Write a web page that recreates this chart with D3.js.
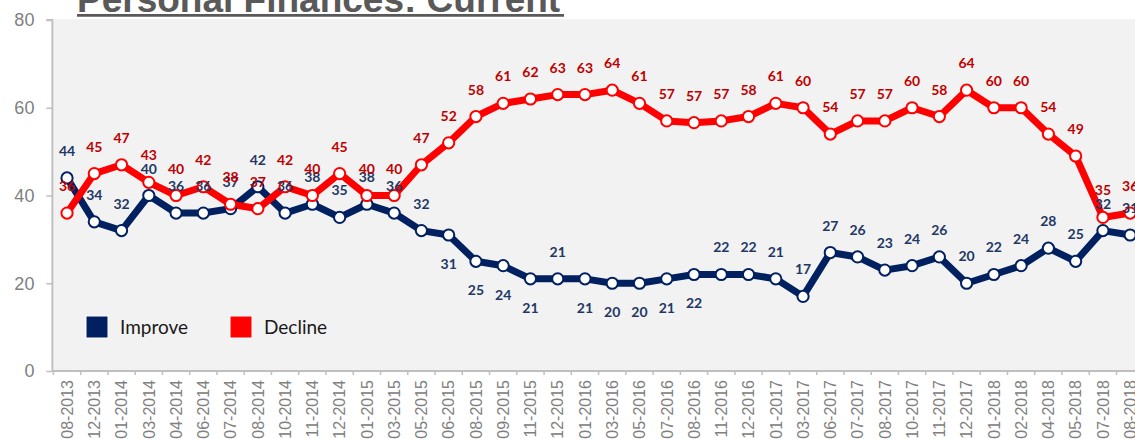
<!DOCTYPE html>
<html>
<head>
<meta charset="utf-8">
<script src="https://cdn.jsdelivr.net/npm/d3@7"></script>
<style>
  html, body { margin: 0; padding: 0; background: #fff; }
  svg { display: block; }
</style>
</head>
<body>
<div id="chart"></div>
<script>
// Data
const periods = ["08-2013", "12-2013", "01-2014", "03-2014", "04-2014", "06-2014", "07-2014", "08-2014",
  "10-2014", "11-2014", "12-2014", "01-2015", "03-2015", "05-2015", "06-2015", "08-2015", "09-2015",
  "11-2015", "12-2015", "01-2016", "03-2016", "05-2016", "07-2016", "08-2016", "11-2016", "12-2016",
  "01-2017", "03-2017", "06-2017", "07-2017", "08-2017", "10-2017", "11-2017", "12-2017", "01-2018",
  "02-2018", "04-2018", "05-2018", "07-2018", "08-2018"];
const improve = [44, 34, 32, 40, 36, 36, 37, 42, 36, 38, 35, 38, 36, 32, 31, 25, 24, 21, 21, 21,
  20, 20, 21, 22, 22, 22, 21, 17, 27, 26, 23, 24, 26, 20, 22, 24, 28, 25, 32, 31];
const decline = [36, 45, 47, 43, 40, 42, 38, 37, 42, 40, 45, 40, 40, 47, 52, 58, 61, 62, 63, 63,
  64, 61, 57, 56.6, 57, 58, 61, 60, 54, 57, 57, 60, 58, 64, 60, 60, 54, 49, 35, 36];
const yTicks = [0, 20, 40, 60, 80];
// Improve labels that sit under their point
const improveBelow = ["06-2015", "08-2015", "09-2015", "11-2015", "01-2016", "03-2016", "05-2016", "07-2016", "08-2016"];

const series = [
  { name: "Improve", values: improve, line: "#002060", label: "#1f3864" },
  { name: "Decline", values: decline, line: "#ff0000", label: "#c00000" }
];

// Layout
const [width, height] = [1135, 439];
const plot = { left: 53.4, top: 19, bottom: 371, step: 27.26 };

const svg = d3.select("#chart").append("svg")
  .attr("width", width)
  .attr("height", height);

const x = d3.scaleBand()
  .domain(periods)
  .range([plot.left, plot.left + plot.step * periods.length])
  .padding(0);

const y = d3.scaleLinear()
  .domain([0, 80])
  .range([plot.bottom, 20]);

const cx = d => x(d) + x.bandwidth() / 2;

// Plot background
svg.append("rect")
  .attr("x", plot.left)
  .attr("y", plot.top)
  .attr("width", width - plot.left)
  .attr("height", plot.bottom - plot.top)
  .attr("fill", "#f2f2f2");

// Title
svg.append("text")
  .attr("x", 77)
  .attr("y", 12)
  .attr("font-family", "Liberation Sans, Arial, sans-serif")
  .attr("font-weight", "bold")
  .attr("font-size", 37)
  .attr("fill", "#595959")
  .text("Personal Finances: Current");

svg.append("line")
  .attr("x1", 77).attr("x2", 564)
  .attr("y1", 15.4).attr("y2", 15.4)
  .attr("stroke", "#595959")
  .attr("stroke-width", 2.8);

// Y axis
const yAxis = svg.append("g")
  .attr("transform", `translate(${plot.left - 1},0)`)
  .call(d3.axisLeft(y).tickValues(yTicks).tickSize(6).tickPadding(12));
yAxis.select(".domain").attr("stroke", "#bfbfbf").attr("stroke-width", 2)
  .attr("d", `M-6,${y(80)}H0V${y(0)}`);
yAxis.selectAll(".tick line").attr("stroke", "#bfbfbf").attr("stroke-width", 1.5);
yAxis.selectAll(".tick text")
  .attr("fill", "#808080")
  .attr("font-family", "Liberation Sans, Arial, sans-serif")
  .attr("font-size", 18);

// X axis
const xAxis = svg.append("g")
  .attr("transform", `translate(0,${plot.bottom})`)
  .call(d3.axisBottom(x).tickSize(0).tickPadding(0));
xAxis.select(".domain").remove();
xAxis.append("line")
  .attr("x1", plot.left - 1).attr("x2", width)
  .attr("stroke", "#bfbfbf").attr("stroke-width", 2);
xAxis.selectAll(".bound")
  .data(periods)
  .enter().append("line")
  .attr("class", "bound")
  .attr("x1", d => x(d)).attr("x2", d => x(d))
  .attr("y1", 0).attr("y2", 4)
  .attr("stroke", "#bfbfbf").attr("stroke-width", 1.5);
xAxis.selectAll(".tick text")
  .attr("fill", "#808080")
  .attr("font-family", "Liberation Sans, Arial, sans-serif")
  .attr("font-size", 16)
  .attr("text-anchor", "end")
  .attr("dy", "0.36em")
  .attr("transform", "translate(0,9) rotate(-90)");

// Lines
const line = d3.line()
  .x((d, i) => cx(periods[i]))
  .y(d => y(d));

series.forEach(s => {
  svg.append("path")
    .datum(s.values)
    .attr("fill", "none")
    .attr("stroke", s.line)
    .attr("stroke-width", 7)
    .attr("stroke-linejoin", "round")
    .attr("d", line);
});

// Markers
series.forEach(s => {
  svg.append("g").selectAll("circle")
    .data(s.values)
    .enter().append("circle")
    .attr("cx", (d, i) => cx(periods[i]))
    .attr("cy", d => y(d))
    .attr("r", 5.6)
    .attr("fill", "#fff")
    .attr("stroke", s.line)
    .attr("stroke-width", 2);
});

// Data labels
series.forEach(s => {
  svg.append("g").selectAll("text")
    .data(s.values)
    .enter().append("text")
    .attr("x", (d, i) => cx(periods[i]))
    .attr("y", (d, i) => s.name === "Improve" && improveBelow.includes(periods[i]) ? y(d) + 34 : y(d) - 22)
    .attr("text-anchor", "middle")
    .attr("font-family", "Lato, sans-serif")
    .attr("font-weight", "bold")
    .attr("font-size", 14)
    .attr("fill", s.label)
    .text(d => Math.round(d));
});

// Legend
const legend = svg.append("g");
const legendX = [86, 230];
series.forEach((s, i) => {
  legend.append("rect")
    .attr("x", legendX[i]).attr("y", 316)
    .attr("width", 22).attr("height", 22)
    .attr("fill", s.line)
    .attr("stroke", "#fff")
    .attr("stroke-width", 1);
  legend.append("text")
    .attr("x", legendX[i] + 34)
    .attr("y", 334)
    .attr("font-family", "Lato, sans-serif")
    .attr("font-size", 19)
    .attr("fill", "#1a1a1a")
    .text(s.name);
});
</script>
</body>
</html>
